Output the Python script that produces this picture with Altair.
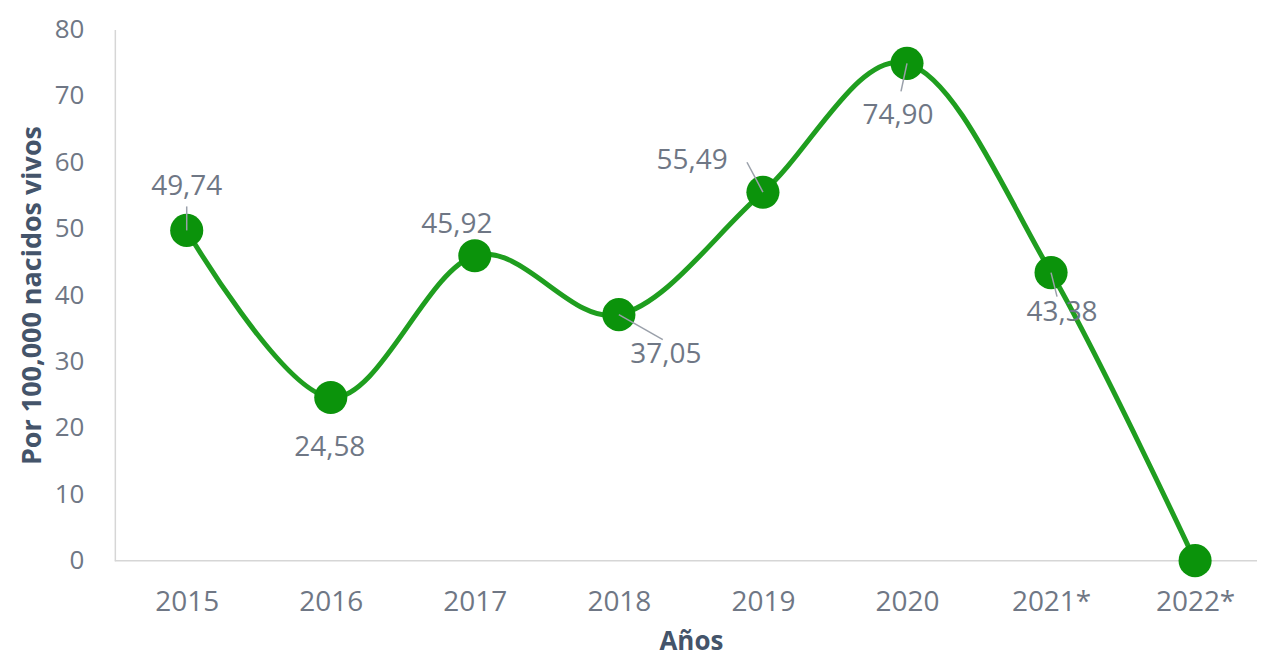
import altair as alt
import pandas as pd

years = ["2015", "2016", "2017", "2018", "2019", "2020", "2021*", "2022*"]
values = [49.74, 24.58, 45.92, 37.05, 55.49, 74.90, 43.38, 0.0]
labels = ["49,74", "24,58", "45,92", "37,05", "55,49", "74,90", "43,38", ""]

df = pd.DataFrame({"year": years, "value": values, "label": labels})

# label placement (pixel offsets from each point) and leader lines
label_dx = [0, -1, -18, 47, -71, -9, 11, 0]
label_dy = [-43, 51, -31, 40, -31, 53, 40, 0]
leader_end = {"2015": (0, -24), "2018": (44, 25), "2019": (-16, -30), "2020": (-6, 28), "2021*": (6, 24)}

FONT = "Open Sans"
TICK_COLOR = "#6f7785"
TITLE_COLOR = "#44546A"
LINE_GREEN = "#1f9e1f"
DOT_GREEN = "#0b930b"
AXIS_GRAY = "#d6d6d6"
W, H = 1144, 532

x_enc = alt.X("year:N", sort=years, title="Años",
              scale=alt.Scale(type="point", range=[72, 1082], padding=0),
              axis=alt.Axis(labelAngle=0, labelFontSize=28, labelColor=TICK_COLOR, labelFont=FONT,
                            titleFont=FONT, titleFontSize=26, titleFontWeight="bold", titleColor=TITLE_COLOR,
                            titlePadding=12, labelPadding=28, ticks=False, domain=False))
y_enc = alt.Y("value:Q", title="Por 100,000 nacidos vivos",
              scale=alt.Scale(domain=[0, 80]),
              axis=alt.Axis(values=list(range(0, 81, 10)), labelFontSize=26, labelColor=TICK_COLOR,
                            labelFont=FONT, titleFont=FONT, titleFontSize=27, titleFontWeight="bold",
                            titleColor=TITLE_COLOR, ticks=False, labelPadding=31, titlePadding=8,
                            grid=False, labelFlush=False, domainColor=AXIS_GRAY, domainWidth=1.5))

base = alt.Chart(df).encode(x=x_enc, y=y_enc)

baseline = alt.Chart(df).transform_filter(alt.datum.year == years[0]).mark_rule(
    color=AXIS_GRAY, strokeWidth=1.5
).encode(y=alt.Y(datum=0), x=alt.value(0), x2=alt.value(W))

line = base.mark_line(interpolate="cardinal", strokeWidth=5, color=LINE_GREEN)
points = base.mark_point(filled=True, shape="circle", size=1100, color=DOT_GREEN, opacity=1)

layers = [baseline, line, points]

for yr, (ex, ey) in leader_end.items():
    layers.append(
        alt.Chart(df).transform_filter(alt.datum.year == yr).mark_rule(
            color="#9aa0aa", strokeWidth=1.5, x2Offset=ex, y2Offset=ey
        ).encode(
            x=alt.X("year:N", sort=years), y="value:Q",
            x2="year:N", y2="value:Q",
        )
    )

for yr, dx, dy in zip(years, label_dx, label_dy):
    layers.append(
        alt.Chart(df).transform_filter(alt.datum.year == yr).mark_text(
            dx=dx, dy=dy, fontSize=28, font=FONT, color=TICK_COLOR, align="center", baseline="middle"
        ).encode(x=alt.X("year:N", sort=years), y="value:Q", text="label:N")
    )

chart = alt.layer(*layers).properties(
    width=W, height=H, background="white",
    padding={"left": 10, "top": 8, "right": 0, "bottom": 4},
).configure_view(stroke=None)

chart.save("out.html", embed_options={"renderer": "svg", "actions": False})
